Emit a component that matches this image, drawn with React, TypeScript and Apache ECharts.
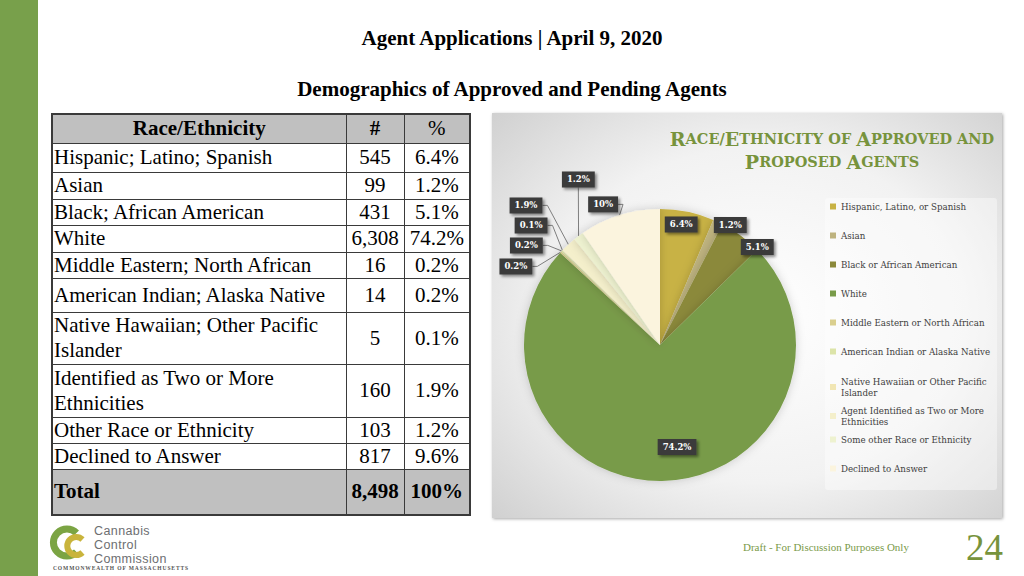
import React, { useEffect, useRef } from "react";
import * as echarts from "echarts";

// ---------- data ----------
const categories = [
  "Hispanic, Latino, or Spanish",
  "Asian",
  "Black or African American",
  "White",
  "Middle Eastern or North African",
  "American Indian or Alaska Native",
  "Native Hawaiian or Other Pacific Islander",
  "Agent Identified as Two or More Ethnicities",
  "Some other Race or Ethnicity",
  "Declined to Answer",
];
const legendLabels = [
  "Hispanic, Latino, or Spanish",
  "Asian",
  "Black or African American",
  "White",
  "Middle Eastern or North African",
  "American Indian or Alaska Native",
  "Native Hawaiian or Other Pacific\nIslander",
  "Agent Identified as Two or More\nEthnicities",
  "Some other Race or Ethnicity",
  "Declined to Answer",
];
const counts = [545, 99, 431, 6308, 16, 14, 5, 160, 103, 817];
const pieLabels = ["6.4%", "1.2%", "5.1%", "74.2%", "0.2%", "0.2%", "0.1%", "1.9%", "1.2%", "10%"];

const tableNames = [
  "Hispanic; Latino; Spanish",
  "Asian",
  "Black; African American",
  "White",
  "Middle Eastern; North African",
  "American Indian; Alaska Native",
  "Native Hawaiian; Other Pacific Islander",
  "Identified as Two or More Ethnicities",
  "Other Race or Ethnicity",
  "Declined to Answer",
];
const tableCounts = ["545", "99", "431", "6,308", "16", "14", "5", "160", "103", "817"];
const tablePercents = ["6.4%", "1.2%", "5.1%", "74.2%", "0.2%", "0.2%", "0.1%", "1.9%", "1.2%", "9.6%"];
const totalRow = ["Total", "8,498", "100%"];

// ---------- styles ----------
const colors = [
  "#C8B244", "#BEB37F", "#8B893A", "#789B49", "#DACF8E",
  "#DCE4A9", "#F1E6B4", "#F4EFCB", "#EEF2D0", "#FBF4DE",
];
const rowHeights = [29, 27, 26, 27, 26, 34, 52, 53, 26, 26];
const legendTops = [88, 117, 146, 175, 204, 233, 263, 292, 321, 350];
const labelMode = ["in", "edge", "edge", "in", "out", "out", "out", "out", "top", "near"];
const labelNudge: number[][] = [
  [7, -51], [-9, 3], [-8, 7], [16, 31], [25, -34], [28, -37], [22, -39], [2, -41], [33, -49], [7, -6],
];
const green = "#77933C";

function Chart() {
  const ref = useRef<HTMLDivElement>(null);
  useEffect(() => {
    if (!ref.current) return;
    const chart = echarts.init(ref.current, null, { renderer: "svg" });
    const data = categories.map((name, i) => {
      const mode = labelMode[i];
      const item: any = { name, value: counts[i], itemStyle: { color: colors[i] } };
      if (mode === "in") {
        item.label = { position: "inside" };
        item.labelLine = { show: false };
      } else if (mode === "edge") {
        item.label = { position: "outside" };
        item.labelLine = { show: false, length: 0, length2: 0 };
      } else if (mode === "near") {
        item.label = { position: "outside" };
        item.labelLine = { show: true, length: 5, length2: 2 };
      } else {
        item.label = { position: "outside" };
        item.labelLine = { show: true, length: 10, length2: 14 };
      }
      return item;
    });
    const legends = categories.map((name, i) => ({
      data: [name],
      orient: "vertical",
      left: 338,
      top: legendTops[i],
      padding: 0,
      itemWidth: 6,
      itemHeight: 6,
      icon: "rect",
      selectedMode: false,
      formatter: () => legendLabels[i],
      textStyle: { fontFamily: "DejaVu Serif", fontSize: 8.7, color: "#404040", lineHeight: 11 },
    }));
    chart.setOption({
      animation: false,
      backgroundColor: {
        type: "radial",
        x: 0.52,
        y: 0.5,
        r: 0.75,
        colorStops: [
          { offset: 0, color: "#ffffff" },
          { offset: 0.55, color: "#f2f2f2" },
          { offset: 1, color: "#cdcdcd" },
        ],
      },
      title: {
        left: 335,
        top: 9,
        textAlign: "center",
        text:
          "{b|R}{s|ACE/}{b|E}{s|THNICITY OF }{b|A}{s|PPROVED AND}\n{b|P}{s|ROPOSED }{b|A}{s|GENTS}",
        textStyle: {
          rich: {
            b: { fontFamily: "DejaVu Serif", fontWeight: "bold", fontSize: 19, color: green, lineHeight: 23 },
            s: { fontFamily: "DejaVu Serif", fontWeight: "bold", fontSize: 14.5, color: green, lineHeight: 23 },
          },
        },
      },
      graphic: [
        {
          type: "rect",
          shape: { x: 333, y: 85, width: 172, height: 292, r: 3 },
          style: { fill: "rgba(255,255,255,0.4)" },
          silent: true,
        },
      ],
      legend: legends,
      series: [
        {
          type: "pie",
          left: -100,
          top: 0,
          right: 0,
          bottom: 0,
          center: [268, 232],
          radius: 136,
          startAngle: 90,
          clockwise: true,
          data,
          itemStyle: { shadowBlur: 10, shadowColor: "rgba(0,0,0,0.18)" },
          label: {
            formatter: (p: any) => pieLabels[p.dataIndex],
            overflow: "none",
            bleedMargin: 0,
            backgroundColor: "#3b3b3b",
            color: "#ffffff",
            fontFamily: "DejaVu Serif",
            fontWeight: "bold",
            fontSize: 8.5,
            padding: [4, 5, 3, 5],
            shadowBlur: 3,
            shadowOffsetX: 2,
            shadowOffsetY: 2,
            shadowColor: "rgba(0,0,0,0.45)",
          },
          labelLine: { lineStyle: { color: "#7f7f7f", width: 1 } },
          labelLayout: (p: any) => {
            const i = p.dataIndex;
            const n = labelNudge[i];
            const res: any = { dx: n[0], dy: n[1] };
            const mode = labelMode[i];
            const pts = p.labelLinePoints;
            const r = p.labelRect;
            if ((mode === "out" || mode === "near" || mode === "top") && pts && r) {
              const x0 = r.x + n[0];
              const y0 = r.y + n[1];
              const start = pts[0];
              if (mode === "top") {
                const ax = x0 + r.width / 2;
                const ay = y0 + r.height;
                res.labelLinePoints = [start, [ax, ay + 1], [ax, ay]];
              } else {
                const ax = x0 + r.width;
                const ay = y0 + r.height / 2;
                res.labelLinePoints = [start, [ax + 5, ay], [ax, ay]];
              }
            }
            return res;
          },
        },
      ],
    });
    return () => chart.dispose();
  }, []);
  return (
    <div
      ref={ref}
      style={{
        position: "absolute",
        left: 492,
        top: 113,
        width: 510,
        height: 405,
        boxShadow: "1px 1px 3px rgba(0,0,0,0.35)",
      }}
    />
  );
}

const cellBorder = "1px solid #3a3a3a";

export default function App() {
  const tdBase: React.CSSProperties = {
    border: cellBorder,
    padding: "0 2px",
    verticalAlign: "middle",
  };
  return (
    <div
      style={{
        position: "absolute",
        left: 0,
        top: 0,
        width: 1024,
        height: 576,
        overflow: "hidden",
        background: "#ffffff",
        fontFamily: "'Liberation Serif', 'Times New Roman', serif",
      }}
    >
      <div style={{ position: "absolute", left: 0, top: 0, width: 38, height: 576, background: "#78A04B" }} />
      <div
        style={{
          position: "absolute",
          left: 0,
          width: 1024,
          top: 26,
          textAlign: "center",
          fontWeight: "bold",
          fontSize: 21,
          lineHeight: "24px",
          color: "#000",
        }}
      >
        Agent Applications | April 9, 2020
      </div>
      <div
        style={{
          position: "absolute",
          left: 0,
          width: 1024,
          top: 77,
          textAlign: "center",
          fontWeight: "bold",
          fontSize: 21,
          lineHeight: "24px",
          color: "#000",
        }}
      >
        Demographics of Approved and Pending Agents
      </div>

      <table
        style={{
          position: "absolute",
          left: 51,
          top: 113,
          width: 418,
          borderCollapse: "collapse",
          border: "2px solid #3a3a3a",
          fontSize: 21,
          lineHeight: "25px",
          color: "#000",
          tableLayout: "fixed",
        }}
      >
        <colgroup>
          <col style={{ width: 294 }} />
          <col style={{ width: 58 }} />
          <col style={{ width: 66 }} />
        </colgroup>
        <tbody>
          <tr style={{ height: 29, background: "#C0C0C0" }}>
            <td style={{ ...tdBase, textAlign: "center", fontWeight: "bold" }}>Race/Ethnicity</td>
            <td style={{ ...tdBase, textAlign: "center", fontWeight: "bold" }}>#</td>
            <td style={{ ...tdBase, textAlign: "center" }}>%</td>
          </tr>
          {tableNames.map((n, i) => (
            <tr key={n} style={{ height: rowHeights[i] }}>
              <td style={{ ...tdBase, textAlign: "left", padding: "0 1px" }}>{n}</td>
              <td style={{ ...tdBase, textAlign: "center", padding: 0 }}>{tableCounts[i]}</td>
              <td style={{ ...tdBase, textAlign: "center", padding: 0 }}>{tablePercents[i]}</td>
            </tr>
          ))}
          <tr style={{ height: 46, background: "#C0C0C0", fontWeight: "bold" }}>
            <td style={{ ...tdBase, textAlign: "left", padding: "0 1px" }}>{totalRow[0]}</td>
            <td style={{ ...tdBase, textAlign: "center", padding: 0 }}>{totalRow[1]}</td>
            <td style={{ ...tdBase, textAlign: "center", padding: 0 }}>{totalRow[2]}</td>
          </tr>
        </tbody>
      </table>

      <Chart />

      {/* logo */}
      <svg style={{ position: "absolute", left: 0, top: 0 }} width={1024} height={576}>
        <path d="M76.5 533 A13.5 13.5 0 1 0 76.5 552" fill="none" stroke="#7BA443" strokeWidth={7} />
        <path d="M82.5 539.5 A9 9 0 1 0 82.5 552.5" fill="none" stroke="#C9B43C" strokeWidth={6} />
      </svg>
      <div
        style={{
          position: "absolute",
          left: 94,
          top: 524,
          fontFamily: "'Liberation Sans', Arial, sans-serif",
          fontSize: 12.5,
          letterSpacing: 0.4,
          lineHeight: "14px",
          color: "#6d6e71",
        }}
      >
        <div style={{ height: 14 }}>Cannabis</div>
        <div style={{ height: 14 }}>Control</div>
        <div style={{ height: 14 }}>Commission</div>
      </div>
      <div
        style={{
          position: "absolute",
          left: 53,
          top: 565,
          fontFamily: "'Liberation Serif', serif",
          fontSize: 5.5,
          letterSpacing: 0.9,
          color: "#555",
          fontWeight: "bold",
          lineHeight: "7px",
        }}
      >
        COMMONWEALTH OF MASSACHUSETTS
      </div>

      <div
        style={{
          position: "absolute",
          left: 743,
          top: 541,
          fontSize: 11,
          lineHeight: "13px",
          color: "#7A9A4A",
        }}
      >
        Draft - For Discussion Purposes Only
      </div>
      <div
        style={{
          position: "absolute",
          left: 966,
          top: 528,
          fontSize: 37,
          lineHeight: "40px",
          color: green,
        }}
      >
        24
      </div>
    </div>
  );
}
